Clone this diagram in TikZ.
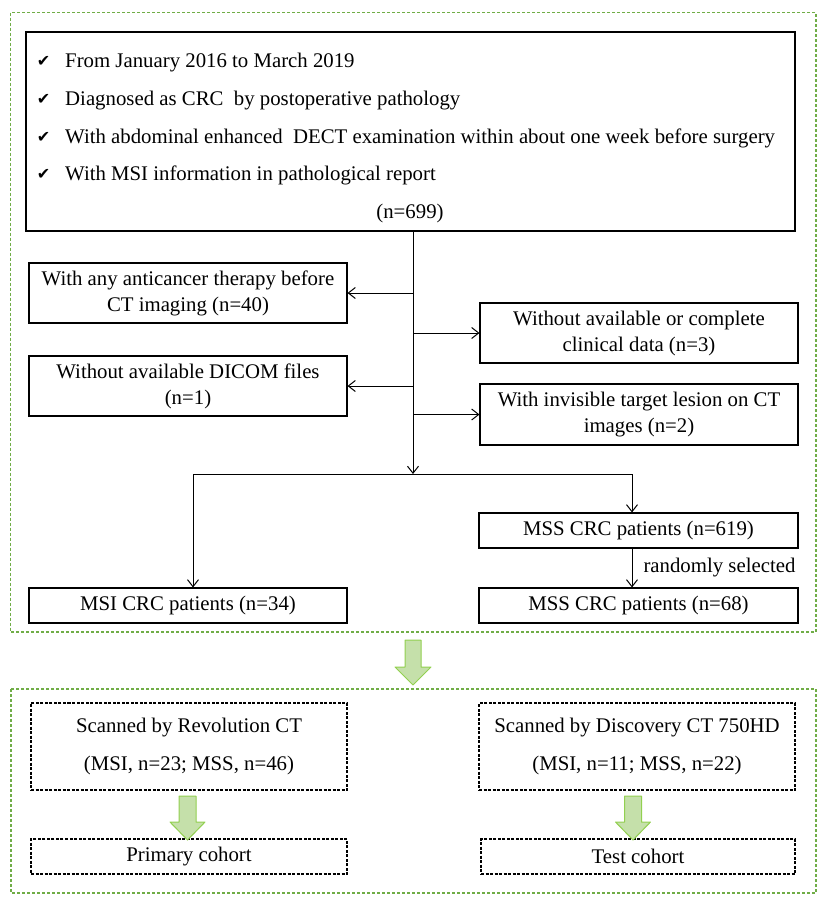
\documentclass[tikz,border=0pt]{standalone}
\usepackage{fontspec}
\setmainfont{Liberation Serif}
\newfontfamily\checkfont{DejaVu Sans}
\usetikzlibrary{arrows.meta,positioning}

\definecolor{dashgreen}{RGB}{112,173,71}
\definecolor{arrowfill}{RGB}{197,224,170}
\definecolor{arrowline}{RGB}{146,208,80}

% block arrow: centre x, top, start of head, tip, half shaft, half head
\newcommand{\greenarrow}[6]{%
	\filldraw[arrowline, fill=arrowfill, line width=1pt, line join=round]
		(#1-#5,#2) -- (#1+#5,#2) -- (#1+#5,#3) -- (#1+#6,#3) -- (#1,#4)
		-- (#1-#6,#3) -- (#1-#5,#3) -- cycle;}

\begin{document}
\begin{tikzpicture}[x=1pt, y=-1pt,
		box/.style={draw, line width=1.1pt, align=center, inner sep=0pt,
			font=\fontsize{20.8}{26}\selectfont},
		dashbox/.style={box, dash pattern=on 3pt off 1.5pt,
			font=\fontsize{20.8}{38}\selectfont},
		groupbox/.style={dashgreen, line width=1.3pt, dash pattern=on 3pt off 2pt},
		crit/.style={anchor=base west, inner sep=0pt, font=\fontsize{20.8}{26}\selectfont},
		tick/.style={anchor=base, inner sep=0pt, font=\checkfont\fontsize{16}{16}\selectfont},
		link/.style={line width=1pt, -{Straight Barb[length=7pt, width=11pt, line width=1pt]}}]
	\useasboundingbox (0,0) rectangle (829,903);

	% groups
	\draw[groupbox] (10.5,12.7) rectangle (816,632);
	\draw[groupbox] (11,689) rectangle (816,893);

	% inclusion criteria
	\draw (410.5,131.5) node [box, minimum width=769pt, minimum height=199pt] (criteria) {};
	\draw (43.5,66) node [tick] (t1) {✔};
	\draw (43.5,104) node [tick] (t2) {✔};
	\draw (43.5,142) node [tick] (t3) {✔};
	\draw (43.5,179) node [tick] (t4) {✔};
	\draw (65,67) node [crit] (c1) {From January 2016 to March 2019};
	\draw (65,105) node [crit] (c2) {Diagnosed as CRC\ \ by postoperative pathology};
	\draw (65,143) node [crit] (c3) {With abdominal enhanced\ \ DECT examination within about one week before surgery};
	\draw (65,180) node [crit] (c4) {With MSI information in pathological report};
	\draw (410,218) node [crit, anchor=base] (total) {(n=699)};

	% exclusions
	\draw (188,293) node [box, minimum width=318pt, minimum height=60pt] (anticancer) {With any anticancer therapy before\\CT imaging (n=40)};
	\draw (639,333) node [box, minimum width=318pt, minimum height=60pt] (clinical) {Without available or complete\\clinical data (n=3)};
	\draw (188,386) node [box, minimum width=318pt, minimum height=60pt] (dicom) {Without available DICOM files\\(n=1)};
	\draw (639,414.5) node [box, minimum width=318pt, minimum height=61pt] (lesion) {With invisible target lesion on CT\\images (n=2)};

	% groups of patients
	\draw (188,605.5) node [box, minimum width=318pt, minimum height=35pt] (msi) {MSI CRC patients (n=34)};
	\draw (638.5,530.5) node [box, minimum width=319pt, minimum height=35pt] (mssall) {MSS CRC patients (n=619)};
	\draw (638.5,605.5) node [box, minimum width=319pt, minimum height=35pt] (msssel) {MSS CRC patients (n=68)};

	% scanners and cohorts
	\draw (189,746.5) node [dashbox, minimum width=316pt, minimum height=87pt] (revolution) {Scanned by Revolution CT\\(MSI, n=23; MSS, n=46)};
	\draw (637,746.5) node [dashbox, minimum width=316pt, minimum height=87pt] (discovery) {Scanned by Discovery CT 750HD\\(MSI, n=11; MSS, n=22)};
	\draw (189,856.5) node [dashbox, minimum width=316pt, minimum height=35pt] (primary) {Primary cohort};
	\draw (638,856.5) node [dashbox, minimum width=314pt, minimum height=35pt] (test) {Test cohort};

	\coordinate (split) at (413,474);

	\draw[line width=1pt] (criteria.south -| split) -- (split |- lesion.west);
	\draw[link] (split |- lesion.west) -- (split);
	\draw[link] (split |- anticancer.east) -- (anticancer.east);
	\draw[link] (split |- clinical.west) -- (clinical.west);
	\draw[link] (split |- dicom.east) -- (dicom.east);
	\draw[link] (split |- lesion.west) -- (lesion.west);
	\draw[link] (split) -| ([xshift=5pt]msi.north);
	\draw[link] (split) -| ([xshift=-6.5pt]mssall.north);
	\draw[link] ([xshift=-6.5pt]mssall.south) -- node [right, inner sep=0pt, xshift=11pt, font=\fontsize{20.8}{26}\selectfont] {randomly selected} ([xshift=-6.5pt]msssel.north);

	% block arrows
	\greenarrow{413}{640}{667}{685}{8}{18}
	\greenarrow{187.5}{796}{822}{840}{8.5}{17.5}
	\greenarrow{633}{796}{822}{840}{8.5}{17.5}
\end{tikzpicture}
\end{document}
